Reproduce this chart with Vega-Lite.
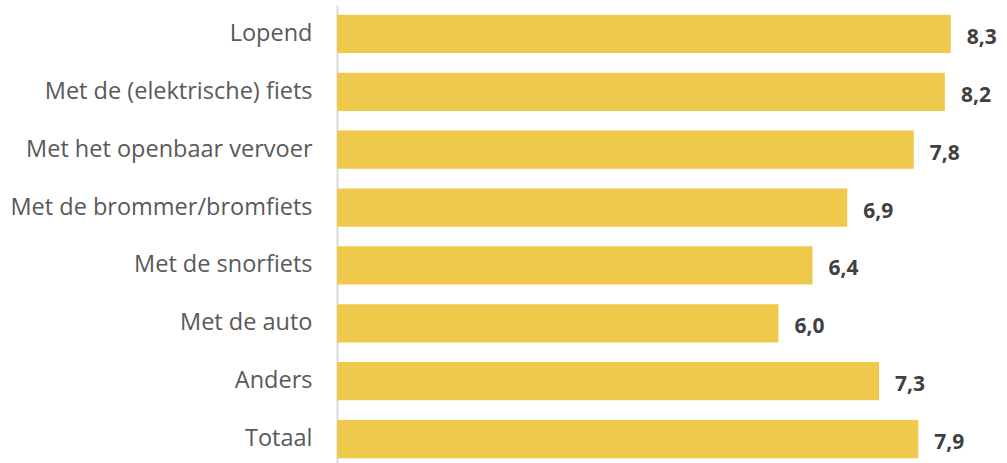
{
  "$schema": "https://vega.github.io/schema/vega-lite/v6.json",
  "autosize": {"type": "none"},
  "padding": {"left": 337, "top": 5, "right": 0, "bottom": 0},
  "width": 670,
  "height": 463,
  "background": "white",
  "config": {"view": {"stroke": null}, "font": "Open Sans"},
  "data": {"values": [
    {"cat": "Lopend", "value": 8.3, "label": "8,3"},
    {"cat": "Met de (elektrische) fiets", "value": 8.22, "label": "8,2"},
    {"cat": "Met het openbaar vervoer", "value": 7.8, "label": "7,8"},
    {"cat": "Met de brommer/bromfiets", "value": 6.9, "label": "6,9"},
    {"cat": "Met de snorfiets", "value": 6.43, "label": "6,4"},
    {"cat": "Met de auto", "value": 5.97, "label": "6,0"},
    {"cat": "Anders", "value": 7.33, "label": "7,3"},
    {"cat": "Totaal", "value": 7.86, "label": "7,9"}
  ]},
  "encoding": {
    "y": {"field": "cat", "type": "nominal", "sort": null,
      "scale": {"paddingInner": 0.34, "paddingOuter": 0.17},
      "axis": {"title": null, "ticks": false, "domainColor": "#d9d9d9", "domainWidth": 2,
        "labelFontSize": 23.5, "labelColor": "#595959", "labelPadding": 25, "labelFont": "Open Sans", "labelLimit": 400}},
    "x": {"field": "value", "type": "quantitative", "scale": {"domain": [0, 9.06], "nice": false, "zero": true}, "axis": null}
  },
  "layer": [
    {"mark": {"type": "bar", "color": "#EFC94C"}},
    {"mark": {"type": "text", "align": "left", "baseline": "middle", "dx": 16, "dy": 4, "fontSize": 21, "fontWeight": "bold", "color": "#404040"},
     "encoding": {"text": {"field": "label"}}}
  ]
}
